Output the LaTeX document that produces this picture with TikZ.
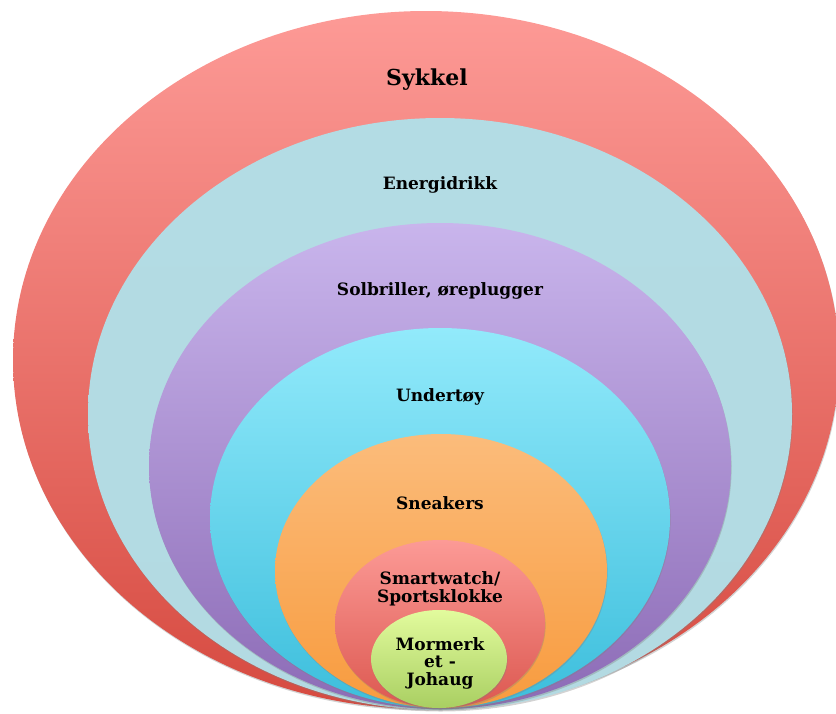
\documentclass[tikz,border=0pt]{standalone}
\usepackage{fontspec}
\setmainfont{DejaVu Serif}
\usetikzlibrary{shapes.geometric,shadows}

\definecolor{sykkelTop}{HTML}{FD9A96}
\definecolor{sykkelBot}{HTML}{D64A40}
\definecolor{energiTop}{HTML}{B3DCE4}
\definecolor{energiBot}{HTML}{B3DAE2}
\definecolor{solTop}{HTML}{C9B5EC}
\definecolor{solBot}{HTML}{8C6BB6}
\definecolor{underTop}{HTML}{92EAFB}
\definecolor{underBot}{HTML}{3CBEDC}
\definecolor{sneakTop}{HTML}{FBBC7B}
\definecolor{sneakBot}{HTML}{F89B3E}
\definecolor{smartTop}{HTML}{FC9A96}
\definecolor{smartBot}{HTML}{DC5850}
\definecolor{johaugTop}{HTML}{E2FB9D}
\definecolor{johaugBot}{HTML}{A9CF62}

\begin{document}
\begin{tikzpicture}[
    x=1pt, y=-1pt,
    ring/.style={ellipse, inner sep=0pt,
        drop shadow={shadow xshift=0.6pt, shadow yshift=-1.5pt, opacity=0.35}},
    lbl/.style={font=\bfseries\fontsize{17}{17.5}\selectfont, align=center, text=black}
]
\useasboundingbox (0,0) rectangle (836,713);

% Nested rings, outer to inner
\node[ring, top color=sykkelTop, bottom color=sykkelBot, minimum width=826pt, minimum height=698pt] (sykkel) at (426,360) {};
\node[ring, top color=energiTop, bottom color=energiBot, minimum width=704pt, minimum height=592pt] (energi) at (440,414) {};
\node[ring, top color=solTop, bottom color=solBot, minimum width=582pt, minimum height=486pt] (sol) at (440,466) {};
\node[ring, top color=underTop, bottom color=underBot, minimum width=460pt, minimum height=380pt] (under) at (440,518) {};
\node[ring, top color=sneakTop, bottom color=sneakBot, minimum width=332pt, minimum height=274pt] (sneak) at (441,571) {};
\node[ring, top color=smartTop, bottom color=smartBot, minimum width=210pt, minimum height=168pt] (smart) at (440,624) {};
\node[ring, top color=johaugTop, bottom color=johaugBot, minimum width=136pt, minimum height=98pt] (johaug) at (439,659) {};

% Labels
\node[lbl, font=\bfseries\fontsize{22}{24}\selectfont] (lblSykkel) at (427,80) {Sykkel};
\node[lbl] (lblEnergi) at (440,185) {Energidrikk};
\node[lbl] (lblSol) at (440,291) {Solbriller, øreplugger};
\node[lbl] (lblUnder) at (440,397) {Undertøy};
\node[lbl] (lblSneak) at (440,503) {Sneakers};
\node[lbl] (lblSmart) at (440,589) {Smartwatch/\\Sportsklokke};
\node[lbl] (lblJohaug) at (440,663) {Mormerk\\et -\\Johaug};

\end{tikzpicture}
\end{document}
